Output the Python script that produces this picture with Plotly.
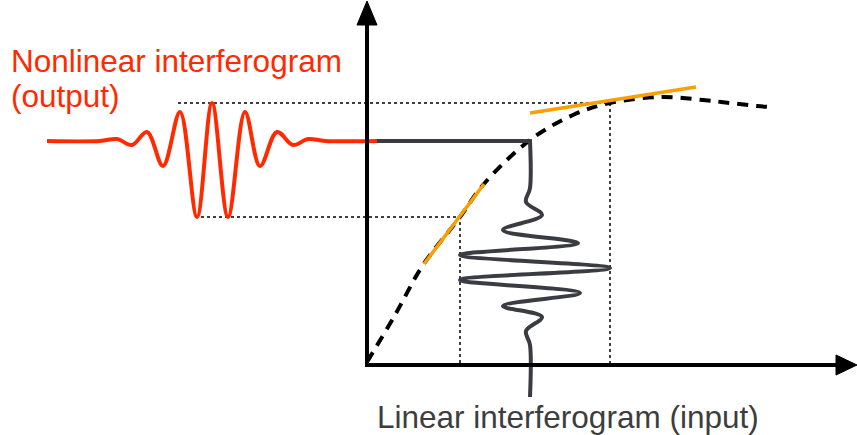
import plotly.graph_objects as go

# Canvas coordinates (diagram units; y grows downward)
W, H = 857, 435

# Transfer curve (dashed)
curve_x = [367, 395, 423, 460, 483, 530, 573, 610, 660, 703, 730, 757, 770]
curve_y = [362, 315, 265, 217, 185, 140, 115, 103, 97, 100, 103, 106, 107]

# Tangent lines (orange)
tan_low_x = [424, 484]
tan_low_y = [264, 184]
tan_high_x = [530, 696]
tan_high_y = [113, 87]

# Linear interferogram (input), drawn vertically
lin_x = [377, 530, 530, 530, 526, 542, 503, 578, 460, 610, 460, 580, 503, 542, 526, 530, 530]
lin_y = [141, 141, 141, 188, 202, 215, 230, 243, 255, 268, 280, 293, 306, 317, 331, 345, 397]

# Nonlinear interferogram (output), drawn horizontally
nl_x = [47, 100, 117, 132, 147, 163, 180, 197, 212, 228, 245, 260, 277, 293, 308, 325, 377]
nl_y = [141, 141, 139, 145, 132, 166, 112, 217, 103, 217, 112, 166, 132, 145, 139, 141, 141]

# Projection guides (dotted)
guide_up_x = [178, 610, 610]
guide_up_y = [103, 103, 365]
guide_low_x = [195, 460, 460]
guide_low_y = [217, 217, 365]

# Axes
yaxis_x = [367, 367]
yaxis_y = [365, 20]
xaxis_x = [365, 840]
xaxis_y = [365, 365]
arrow_up_x = [357, 367, 377, 357]
arrow_up_y = [25, 1, 25, 25]
arrow_right_x = [836, 857, 836, 836]
arrow_right_y = [355, 365, 375, 355]

# Labels
label_output = ["Nonlinear interferogram", "(output)"]
label_input = "Linear interferogram (input)"

RED = "#ff2a00"
GRAY = "#3b3b42"
ORANGE = "#fa9f00"
FONT = "Liberation Sans, Arial, sans-serif"

fig = go.Figure()

def line(x, y, color, width, dash="solid", shape="linear"):
    fig.add_trace(go.Scatter(x=x, y=y, mode="lines",
                             line=dict(color=color, width=width, dash=dash, shape=shape),
                             hoverinfo="skip"))

line(guide_up_x, guide_up_y, "black", 1.5, dash="3px,3px")
line(guide_low_x, guide_low_y, "black", 1.5, dash="3px,3px")
line(curve_x, curve_y, "black", 4, dash="11px,8px", shape="spline")
line(tan_low_x, tan_low_y, ORANGE, 3.5)
line(tan_high_x, tan_high_y, ORANGE, 3.5)
line(lin_x, lin_y, GRAY, 4, shape="spline")
line(nl_x, nl_y, RED, 4, shape="spline")
line(yaxis_x, yaxis_y, "black", 4)
line(xaxis_x, xaxis_y, "black", 4)

for ax, ay in [(arrow_up_x, arrow_up_y), (arrow_right_x, arrow_right_y)]:
    fig.add_trace(go.Scatter(x=ax, y=ay, mode="lines", fill="toself",
                             fillcolor="black", line=dict(color="black", width=1),
                             hoverinfo="skip"))

for i, txt in enumerate(label_output):
    fig.add_annotation(x=9, y=40.5 + 35 * i, xref="x", yref="y", xanchor="left", yanchor="top",
                       text=txt, showarrow=False, align="left",
                       font=dict(family=FONT, size=31.5, color=RED))
fig.add_annotation(x=375, y=397, xref="x", yref="y", xanchor="left", yanchor="top",
                   text=label_input, showarrow=False, align="left",
                   font=dict(family=FONT, size=31.5, color="#3d3d3d"))

fig.update_layout(width=W, height=H, margin=dict(l=0, r=0, t=0, b=0),
                  paper_bgcolor="white", plot_bgcolor="white", showlegend=False,
                  xaxis=dict(range=[0, W], visible=False, fixedrange=True),
                  yaxis=dict(range=[H, 0], visible=False, fixedrange=True))

fig.write_html("out.html")
